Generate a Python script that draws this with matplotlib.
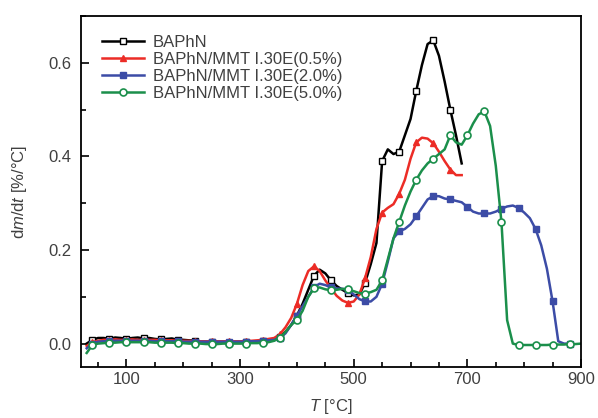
import numpy as np
import matplotlib
matplotlib.use("Agg")
import matplotlib.pyplot as plt
from matplotlib.ticker import MultipleLocator

plt.rcParams['font.family'] = ['Liberation Sans', 'DejaVu Sans']
plt.rcParams['mathtext.fontset'] = 'custom'
plt.rcParams['mathtext.rm'] = 'Liberation Sans'
plt.rcParams['mathtext.it'] = 'Liberation Sans:italic'

# Temperature grids (°C)
T_black = list(range(30, 700, 10))
T_red = list(range(30, 700, 10))
T_blue = list(range(30, 890, 10))
T_green = list(range(30, 910, 10))

labels = ["BAPhN", "BAPhN/MMT I.30E(0.5%)", "BAPhN/MMT I.30E(2.0%)", "BAPhN/MMT I.30E(5.0%)"]

black = [0.000, 0.008, 0.012, 0.012, 0.010, 0.013, 0.012, 0.010, 0.012, 0.013,
         0.011, 0.012, 0.010, 0.009, 0.010, 0.011, 0.008, 0.008, 0.007, 0.006,
         0.005, 0.004, 0.003, 0.003, 0.002, 0.002, 0.002, 0.002, 0.003, 0.003,
         0.004, 0.005, 0.006, 0.008, 0.015, 0.025, 0.040, 0.060, 0.085, 0.115,
         0.145, 0.158, 0.150, 0.135, 0.123, 0.115, 0.108, 0.103, 0.105, 0.130,
         0.170, 0.215, 0.390, 0.415, 0.405, 0.410, 0.445, 0.480, 0.540, 0.595,
         0.640, 0.648, 0.615, 0.560, 0.500, 0.445, 0.385]

red = [-0.005, 0.003, 0.006, 0.008, 0.008, 0.009, 0.008, 0.008, 0.009, 0.008,
       0.008, 0.008, 0.008, 0.007, 0.007, 0.007, 0.006, 0.006, 0.006, 0.005,
       0.005, 0.005, 0.005, 0.005, 0.005, 0.005, 0.005, 0.005, 0.005, 0.006,
       0.007, 0.008, 0.010, 0.012, 0.020, 0.035, 0.055, 0.085, 0.125, 0.155,
       0.165, 0.155, 0.135, 0.118, 0.102, 0.092, 0.087, 0.090, 0.105, 0.140,
       0.185, 0.245, 0.280, 0.290, 0.298, 0.320, 0.350, 0.395, 0.430, 0.440,
       0.438, 0.428, 0.410, 0.390, 0.372, 0.360, 0.360]

blue = [-0.010, 0.000, 0.004, 0.005, 0.005, 0.006, 0.006, 0.006, 0.006, 0.006,
        0.006, 0.006, 0.005, 0.005, 0.005, 0.005, 0.005, 0.004, 0.004, 0.004,
        0.004, 0.004, 0.004, 0.004, 0.004, 0.004, 0.004, 0.004, 0.004, 0.005,
        0.005, 0.006, 0.007, 0.008, 0.012, 0.022, 0.040, 0.060, 0.080, 0.100,
        0.120, 0.128, 0.125, 0.120, 0.118, 0.117, 0.115, 0.105, 0.095, 0.090,
        0.090, 0.100, 0.128, 0.175, 0.225, 0.240, 0.245, 0.255, 0.272, 0.290,
        0.308, 0.315, 0.315, 0.310, 0.308, 0.305, 0.302, 0.292, 0.282, 0.278,
        0.278, 0.278, 0.282, 0.288, 0.293, 0.295, 0.290, 0.280, 0.268, 0.245,
        0.210, 0.160, 0.090, 0.005, 0.000, 0.000]

green = [-0.020, -0.003, 0.000, 0.001, 0.002, 0.002, 0.003, 0.003, 0.003, 0.003,
         0.003, 0.003, 0.002, 0.002, 0.002, 0.002, 0.001, 0.001, 0.000, 0.000,
         0.000, -0.001, -0.001, -0.001, 0.000, 0.000, 0.000, 0.000, 0.000, 0.001,
         0.001, 0.002, 0.003, 0.006, 0.012, 0.025, 0.040, 0.050, 0.070, 0.100,
         0.118, 0.120, 0.116, 0.114, 0.115, 0.117, 0.116, 0.112, 0.108, 0.107,
         0.110, 0.115, 0.135, 0.180, 0.225, 0.260, 0.295, 0.325, 0.350, 0.370,
         0.385, 0.395, 0.405, 0.415, 0.445, 0.430, 0.425, 0.445, 0.470, 0.490,
         0.496, 0.465, 0.380, 0.260, 0.050, 0.000, -0.003, -0.003, -0.003, -0.003,
         -0.003, -0.003, -0.002, -0.002, -0.002, -0.001, -0.001, 0.000]

colors = ['#000000', '#ec2c26', '#3c4ca6', '#1b8f4b']

fig = plt.figure(figsize=(5.98, 4.18), dpi=100)
ax = fig.add_axes([81/598, 1 - 367/418, 500/598, 351/418])

kw = dict(lw=1.8, ms=5, markevery=(1, 3))
ax.plot(T_black, black, color=colors[0], marker='s', mfc='white', mec=colors[0], mew=1.0, label=labels[0], **kw)
ax.plot(T_red, red, color=colors[1], marker='^', mfc=colors[1], mec=colors[1], label=labels[1], **kw)
ax.plot(T_blue, blue, color=colors[2], marker='s', mfc=colors[2], mec=colors[2], label=labels[2], **kw)
ax.plot(T_green, green, color=colors[3], marker='o', mfc='white', mec=colors[3], mew=1.2, label=labels[3], **kw)

ax.set_xlim(20, 900)
ax.set_ylim(-0.05, 0.70)
ax.set_xticks([100, 300, 500, 700, 900])
ax.xaxis.set_minor_locator(MultipleLocator(50))
ax.set_yticks([0.0, 0.2, 0.4, 0.6])
ax.yaxis.set_minor_locator(MultipleLocator(0.1))
ax.tick_params(which='both', direction='in', top=False, right=False, labelsize=12,
               labelcolor='#404040', width=1.2)
ax.tick_params(axis='y', pad=7)
ax.tick_params(which='major', length=6)
ax.tick_params(which='minor', length=3.5)
for s in ax.spines.values():
    s.set_linewidth(1.3)

ax.set_xlabel(r'$T$ [°C]', fontsize=12, color='#404040', labelpad=7)
ax.set_ylabel(r'd$m$/d$t$ [%/°C]', fontsize=12, color='#404040', labelpad=14)

leg = ax.legend(loc='upper left', frameon=False, fontsize=12, handlelength=2.5,
                handletextpad=0.55, labelspacing=0.13, borderaxespad=0.2,
                bbox_to_anchor=(0.022, 0.975))
for t in leg.get_texts():
    t.set_color('#404040')

fig.savefig('out.png', dpi=100)
